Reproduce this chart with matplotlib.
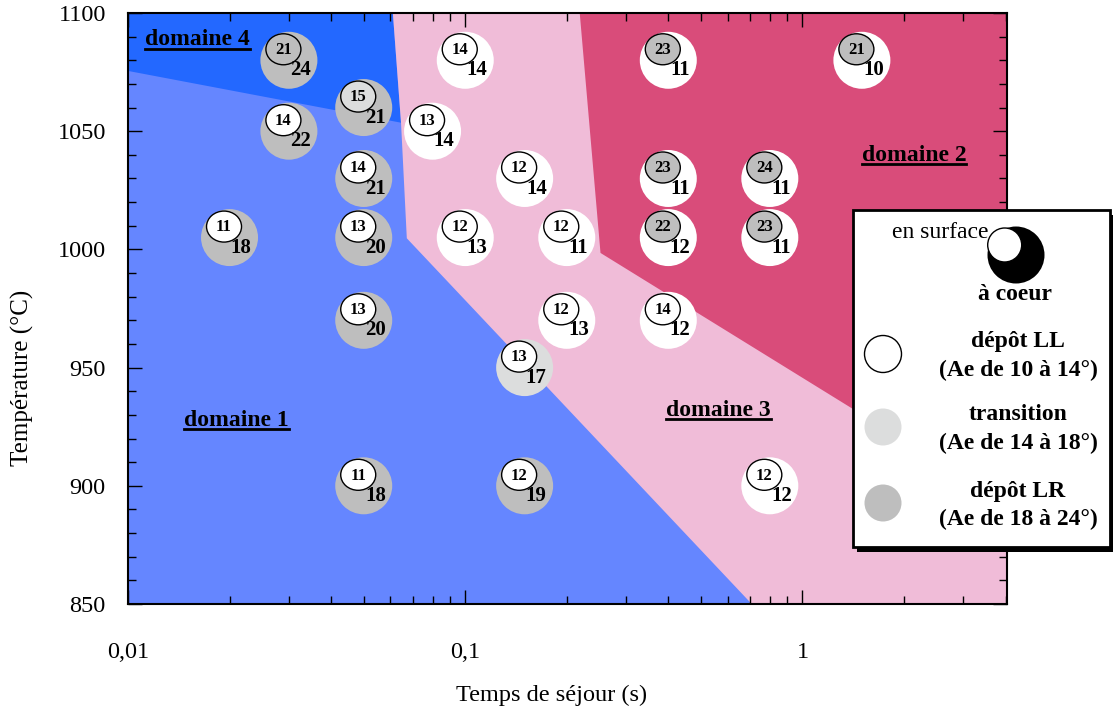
import numpy as np
import matplotlib
matplotlib.use('Agg')
import matplotlib.pyplot as plt
from matplotlib.patches import Polygon, Ellipse, Circle, Rectangle
from matplotlib.lines import Line2D
import matplotlib.transforms as mtransforms
from matplotlib.ticker import FixedLocator, FixedFormatter, MultipleLocator, NullFormatter

plt.rcParams['font.family'] = ['Liberation Serif', 'DejaVu Serif']

# ---------------- data ----------------
residence_time = [0.03, 0.05, 0.03, 0.05, 0.02, 0.05, 0.05, 0.05, 0.15, 0.15,
                  0.1, 0.08, 0.15, 0.1, 0.2, 0.2, 0.4, 0.8,
                  0.4, 1.5, 0.4, 0.8, 0.4, 0.8]
temperature = [1080, 1060, 1050, 1030, 1005, 1005, 970, 900, 900, 950,
               1080, 1050, 1030, 1005, 1005, 970, 970, 900,
               1080, 1080, 1030, 1030, 1005, 1005]
ae_surface = [21, 15, 14, 14, 11, 13, 13, 11, 12, 13,
              14, 13, 12, 12, 12, 12, 14, 12,
              23, 21, 23, 24, 22, 23]
ae_core = [24, 21, 22, 21, 18, 20, 20, 18, 19, 17,
           14, 14, 14, 13, 11, 13, 12, 12,
           11, 10, 11, 11, 12, 11]

x_ticks = [0.01, 0.1, 1]
x_tick_labels = ['0,01', '0,1', '1']
y_ticks = [850, 900, 950, 1000, 1050, 1100]

# domain boundaries (residence time, temperature)
domain4_x = [0.01, 0.01, 0.0645, 0.061]
domain4_y = [1100, 1075.5, 1053.6, 1100]
domain3_x = [0.061, 0.0645, 0.0671, 0.707, 10, 10]
domain3_y = [1100, 1053.6, 1004.7, 850, 850, 1100]
domain2_x = [0.2185, 0.2518, 10, 10]
domain2_y = [1100, 998.5, 857.5, 1100]

domain_labels = ['domaine 1', 'domaine 2', 'domaine 3', 'domaine 4']
domain_label_x = [0.0210, 2.14, 0.564, 0.0161]
domain_label_y = [927.8, 1039.9, 932.0, 1088.6]

# Ae classes
class_names = ['dépôt LL', 'transition', 'dépôt LR']
class_ranges = ['(Ae de 10 à 14°)', '(Ae de 14 à 18°)', '(Ae de 18 à 24°)']
class_colors = ['#FFFFFF', '#DCDDDD', '#BEBEBE']

C_D1 = '#6586FF'
C_D4 = '#2368FF'
C_D3 = '#F0BCD8'
C_D2 = '#D94C7A'


def ae_class(v):
    if v <= 14:
        return 0
    if v <= 17:
        return 1
    return 2


W, H, DPI = 1113, 711, 100
fig = plt.figure(figsize=(W / DPI, H / DPI), dpi=DPI)
ax = fig.add_axes([128 / W, 1 - 604 / H, (1007 - 128) / W, (604 - 13) / H])
ax.set_xscale('log')
ax.set_xlim(0.01, 4.04)
ax.set_ylim(850, 1100)
ax.set_facecolor(C_D1)

for xs, ys, c in [(domain4_x, domain4_y, C_D4), (domain3_x, domain3_y, C_D3),
                  (domain2_x, domain2_y, C_D2)]:
    ax.add_patch(Polygon(list(zip(xs, ys)), closed=True, facecolor=c,
                         edgecolor='none', zorder=0.5))

# ticks
ax.xaxis.set_major_locator(FixedLocator(x_ticks))
ax.xaxis.set_major_formatter(FixedFormatter(x_tick_labels))
minor = [m * d for d in [0.01, 0.1, 1] for m in range(2, 10)]
ax.xaxis.set_minor_locator(FixedLocator(minor))
ax.xaxis.set_minor_formatter(NullFormatter())
ax.yaxis.set_major_locator(FixedLocator(y_ticks))
ax.yaxis.set_minor_locator(MultipleLocator(10))
ax.tick_params(which='both', direction='in', top=True, right=True,
               labelsize=17.5, width=1, color='black')
ax.tick_params(which='major', length=10)
ax.tick_params(which='minor', length=5.5)
ax.tick_params(axis='x', which='major', pad=27)
ax.tick_params(axis='y', which='major', pad=16)
for s in ax.spines.values():
    s.set_linewidth(1.5)
    s.set_zorder(5)

ax.set_xlabel('Temps de séjour (s)', fontsize=17.5, va='center')
ax.xaxis.set_label_coords((552 - 128) / 879, (604 - 695) / 591)
ax.set_ylabel('Température (°C)', fontsize=18, va='center')
ax.yaxis.set_label_coords((22 - 128) / 879, (604 - 378) / 591)

# circles
big_d_pt = 57 * 72 / DPI
core_colors = [class_colors[ae_class(v)] for v in ae_core]
ax.scatter(residence_time, temperature, s=big_d_pt ** 2, c=core_colors,
           edgecolors='none', zorder=3)
for x, y, sv, cv in zip(residence_time, temperature, ae_surface, ae_core):
    tr = fig.dpi_scale_trans + mtransforms.ScaledTranslation(x, y, ax.transData)
    ax.add_patch(Ellipse((-0.055, 0.11), 0.35, 0.31, transform=tr,
                         facecolor=class_colors[ae_class(sv)],
                         edgecolor='black', linewidth=1, zorder=4))
    ax.annotate(str(sv), (x, y), xytext=(-4.0, 7.3), textcoords='offset points',
                ha='center', va='center', fontsize=12, fontweight='bold',
                zorder=5)
    ax.annotate(str(cv), (x, y), xytext=(8.4, -7.3), textcoords='offset points',
                ha='center', va='center', fontsize=15, fontweight='bold',
                zorder=5)

dom_texts = []
for lab, x, y in zip(domain_labels, domain_label_x, domain_label_y):
    dom_texts.append(ax.text(x, y, lab, fontsize=17, fontweight='bold',
                             ha='center', va='center', zorder=5))

# ---------------- legend (pixel layout) ----------------
px = mtransforms.Affine2D().scale(1 / DPI) + fig.dpi_scale_trans


def P(x, y):
    return (x, H - y)


fig.add_artist(Rectangle(P(857, 552), 257, 337, transform=px,
                         facecolor='black', edgecolor='none', zorder=8))
fig.add_artist(Rectangle(P(853, 547), 257, 337, transform=px,
                         facecolor='white', edgecolor='black', linewidth=2,
                         zorder=9))
fig.add_artist(Circle(P(1016, 255), 28.5, transform=px, facecolor='black',
                      edgecolor='none', zorder=10))
fig.add_artist(Circle(P(1004.7, 245), 17, transform=px, facecolor='white',
                      edgecolor='black', linewidth=1, zorder=11))
fig.text(*P(940, 232), 'en surface', transform=px, fontsize=17,
         ha='center', va='center', zorder=12)
fig.text(*P(1015, 295), 'à coeur', transform=px, fontsize=17,
         fontweight='bold', ha='center', va='center', zorder=12)
row_y = [354, 427, 503]
for name, rng, col, yy in zip(class_names, class_ranges, class_colors, row_y):
    fig.add_artist(Circle(P(883, yy), 18.5, transform=px, facecolor=col,
                          edgecolor='black' if col == '#FFFFFF' else 'none',
                          linewidth=1, zorder=10))
    fig.text(*P(1018, yy - 12), name, transform=px, fontsize=17,
             fontweight='bold', ha='center', va='center', zorder=12)
    fig.text(*P(1018, yy + 16), rng, transform=px, fontsize=17,
             fontweight='bold', ha='center', va='center', zorder=12)

# underline domain labels
fig.canvas.draw()
r = fig.canvas.get_renderer()
for t in dom_texts:
    bb = t.get_window_extent(r)
    fig.add_artist(Line2D([bb.x0, bb.x1], [bb.y0 + 1.5, bb.y0 + 1.5],
                          transform=mtransforms.IdentityTransform(),
                          color='black', linewidth=2, zorder=6))

fig.savefig('out.png', dpi=DPI)
